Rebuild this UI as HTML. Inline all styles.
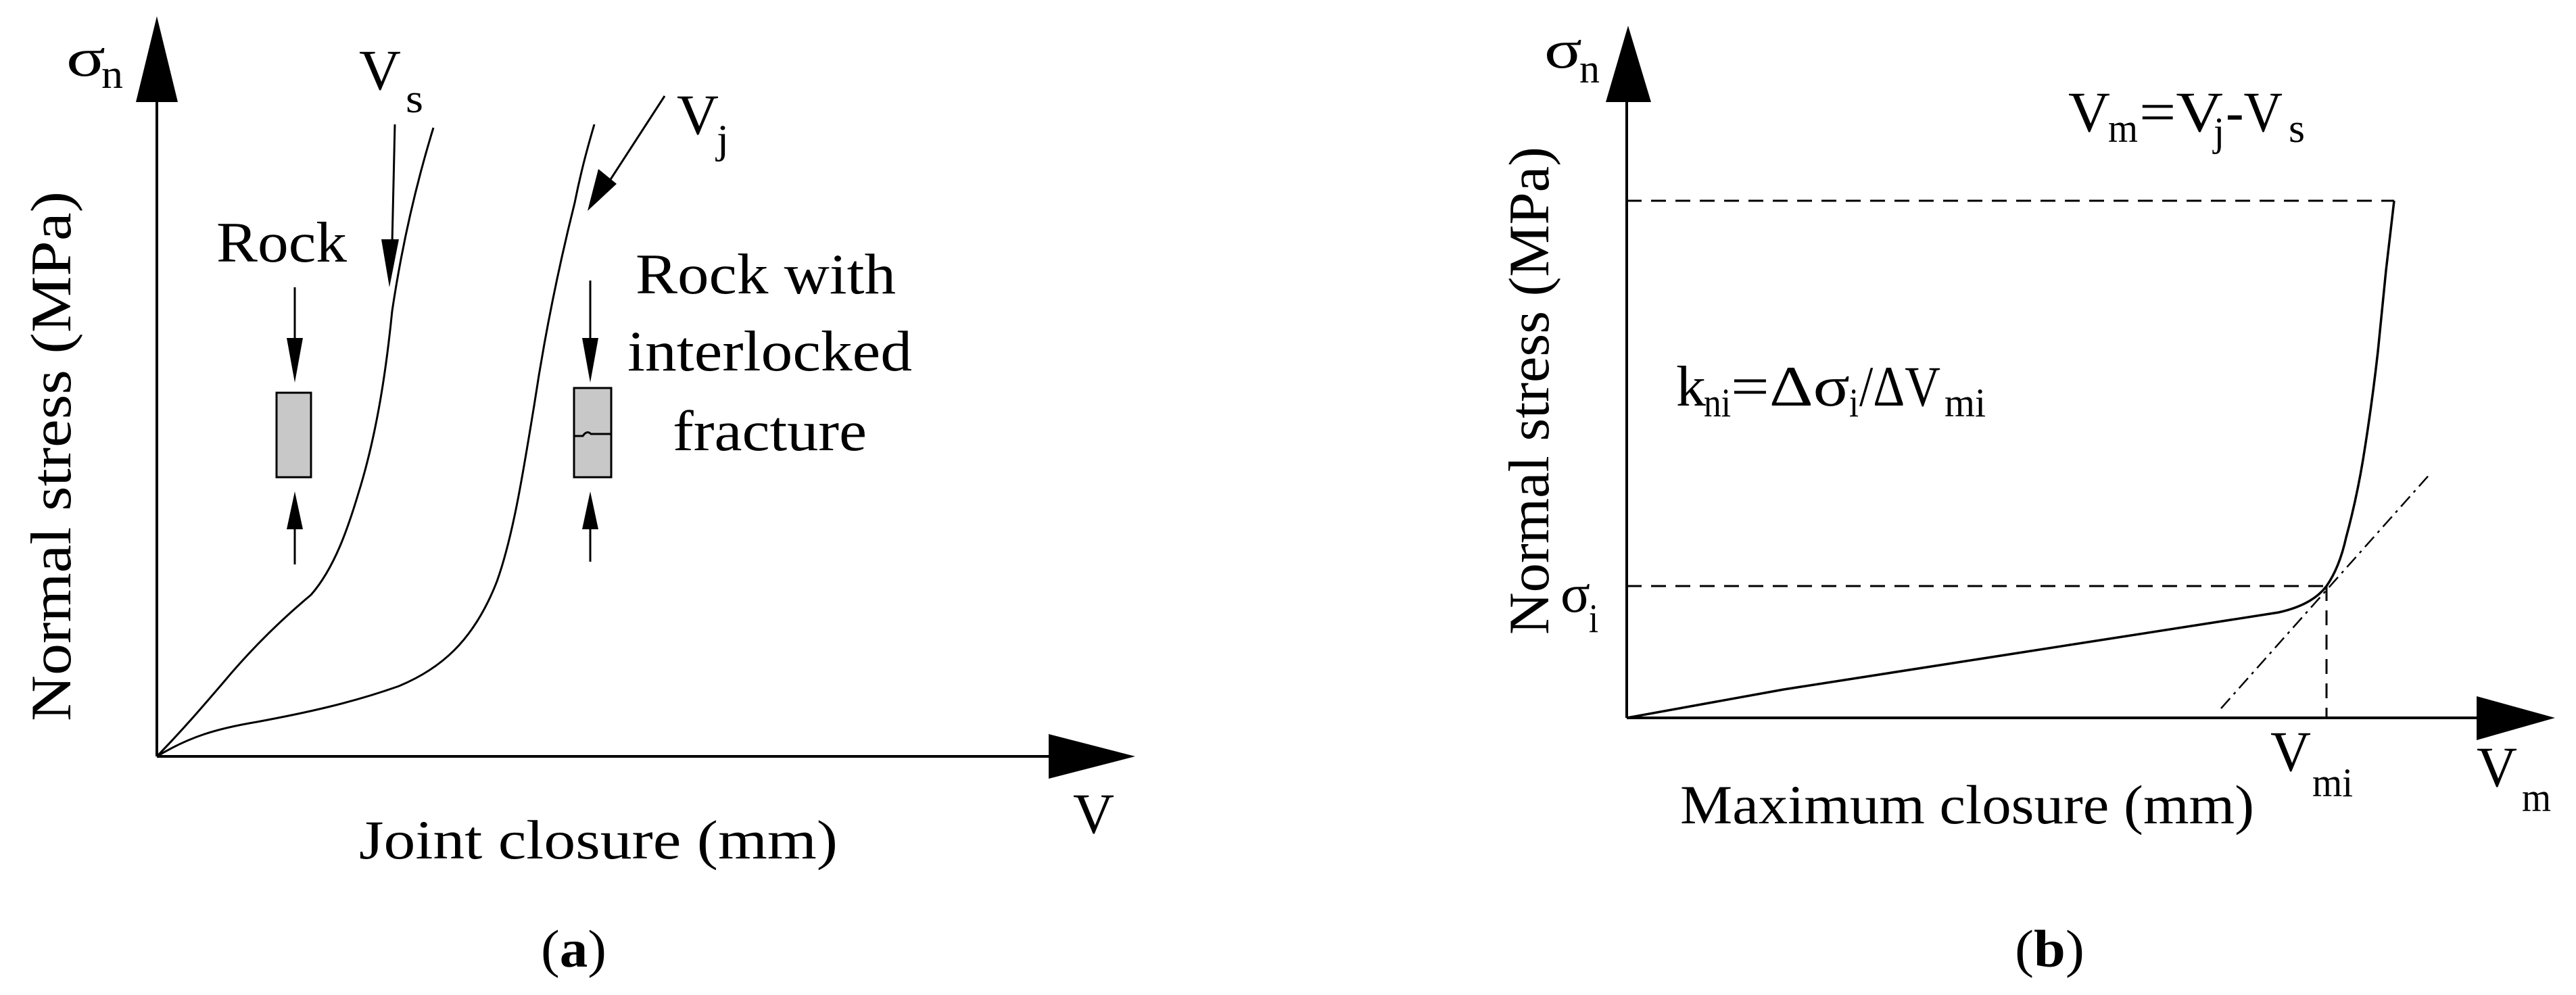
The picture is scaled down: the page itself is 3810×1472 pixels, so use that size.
<!DOCTYPE html>
<html><head><meta charset="utf-8"><style>html,body{margin:0;padding:0;background:#fff}svg{display:block}text{font-family:"Liberation Serif",serif;fill:#000}</style></head><body>
<svg width="3810" height="1472" viewBox="0 0 3810 1472" xmlns="http://www.w3.org/2000/svg">
<g stroke="#000" fill="none" stroke-width="4">
<!-- Left axes -->
<line x1="232" y1="1119" x2="232" y2="140"/>
<line x1="232" y1="1119" x2="1560" y2="1119"/>
</g>
<polygon points="232,24 201,151 263,151" fill="#000"/>
<polygon points="1679,1119 1551,1086 1551,1152" fill="#000"/>
<g stroke="#000" fill="none" stroke-width="3">
<path d="M232,1119 C270,1080 300,1045 330,1010 C380,950 430,905 460,880 C495,840 515,780 530,730 C555,650 570,560 580,460 C592,380 610,290 641,189"/>
<path d="M232,1119 C280,1090 320,1078 380,1068 C450,1055 520,1040 590,1015 C650,990 700,950 735,860 C760,790 775,690 790,600 C808,480 830,380 850,300 C860,250 870,215 879,184"/>
<!-- Vs arrow -->
<line x1="584" y1="184" x2="580" y2="360"/>
<!-- Vj arrow -->
<line x1="983" y1="142" x2="900" y2="270"/>
<!-- specimen left -->
<line x1="436" y1="425" x2="436" y2="510"/>
<line x1="436" y1="780" x2="436" y2="835"/>
<line x1="873" y1="415" x2="873" y2="505"/>
<line x1="873" y1="775" x2="873" y2="831"/>
</g>
<polygon points="576,425 564,354 590,354" fill="#000"/>
<polygon points="869,312 885,250 912,272" fill="#000"/>
<polygon points="436,566 424,500 448,500" fill="#000"/>
<polygon points="436,727 424,783 448,783" fill="#000"/>
<polygon points="873,566 861,500 885,500" fill="#000"/>
<polygon points="873,727 861,783 885,783" fill="#000"/>
<rect x="409" y="581" width="51" height="125" fill="#c8c8c8" stroke="#000" stroke-width="3"/>
<rect x="849" y="574" width="55" height="132" fill="#c8c8c8" stroke="#000" stroke-width="3"/>
<path d="M849,645 L862,645 Q868,636 874,642 L904,642" stroke="#000" stroke-width="3" fill="none"/>

<!-- Left text -->
<text x="98" y="112" font-size="80" textLength="58" lengthAdjust="spacingAndGlyphs">σ</text>
<text x="150" y="130" font-size="60" textLength="32" lengthAdjust="spacingAndGlyphs">n</text>
<text x="531" y="132" font-size="85" textLength="62" lengthAdjust="spacingAndGlyphs">V</text>
<text x="600" y="166" font-size="60" textLength="26" lengthAdjust="spacingAndGlyphs">s</text>
<text x="1001" y="198" font-size="85" textLength="62" lengthAdjust="spacingAndGlyphs">V</text>
<text x="1060" y="226" font-size="60" textLength="18" lengthAdjust="spacingAndGlyphs">j</text>
<text x="320" y="387" font-size="85" textLength="193" lengthAdjust="spacingAndGlyphs">Rock</text>
<text x="940" y="434" font-size="85" textLength="385" lengthAdjust="spacingAndGlyphs">Rock with</text>
<text x="928" y="548" font-size="85" textLength="421" lengthAdjust="spacingAndGlyphs">interlocked</text>
<text x="995" y="666" font-size="85" textLength="287" lengthAdjust="spacingAndGlyphs">fracture</text>
<text transform="translate(104,675) rotate(-90)" text-anchor="middle" font-size="85" textLength="784" lengthAdjust="spacingAndGlyphs">Normal stress (MPa)</text>
<text x="1587" y="1232" font-size="85" textLength="61" lengthAdjust="spacingAndGlyphs">V</text>
<text x="531" y="1270" font-size="82" textLength="708" lengthAdjust="spacingAndGlyphs">Joint closure (mm)</text>
<text x="800" y="1430" font-size="78" textLength="97" lengthAdjust="spacingAndGlyphs">(<tspan font-weight="bold">a</tspan>)</text>

<!-- Right axes -->
<g stroke="#000" fill="none" stroke-width="4">
<line x1="2406" y1="1062" x2="2406" y2="140"/>
<line x1="2406" y1="1062" x2="3680" y2="1062"/>
</g>
<polygon points="2408,38 2375,151 2442,151" fill="#000"/>
<polygon points="3779,1062 3663,1030 3663,1095" fill="#000"/>
<g stroke="#000" fill="none" stroke-width="3" stroke-dasharray="22,14">
<line x1="2406" y1="297" x2="3541" y2="297"/>
<line x1="2406" y1="867" x2="3441" y2="867"/>
<line x1="3441" y1="867" x2="3441" y2="1062"/>
</g>
<line x1="3285" y1="1048" x2="3596" y2="699" stroke="#000" stroke-width="2.5" stroke-dasharray="20,8,4,8"/>
<path d="M2406,1062 L2638,1020 L2882,982 L3126,944 L3370,906 Q3420,895 3441,867 Q3460,840 3470,795 Q3485,740 3495,680 Q3508,600 3517,520 L3529,400 L3541,297" stroke="#000" stroke-width="3.5" fill="none"/>

<!-- Right text -->
<text x="2284" y="100" font-size="80" textLength="56" lengthAdjust="spacingAndGlyphs">σ</text>
<text x="2336" y="122" font-size="60" textLength="30" lengthAdjust="spacingAndGlyphs">n</text>
<text x="3059" y="194" font-size="85" textLength="62" lengthAdjust="spacingAndGlyphs">V</text>
<text x="3118" y="210" font-size="60" textLength="44" lengthAdjust="spacingAndGlyphs">m</text>
<text x="3164" y="194" font-size="85" textLength="124" lengthAdjust="spacingAndGlyphs">=V</text>
<text x="3274" y="215" font-size="60" textLength="16" lengthAdjust="spacingAndGlyphs">j</text>
<text x="3292" y="194" font-size="85" textLength="84" lengthAdjust="spacingAndGlyphs">-V</text>
<text x="3385" y="210" font-size="60" textLength="24" lengthAdjust="spacingAndGlyphs">s</text>
<text x="2479" y="600" font-size="85" textLength="44" lengthAdjust="spacingAndGlyphs">k</text>
<text x="2520" y="616" font-size="60" textLength="40" lengthAdjust="spacingAndGlyphs">ni</text>
<text x="2560" y="600" font-size="85" textLength="176" lengthAdjust="spacingAndGlyphs">=Δσ</text>
<text x="2735" y="616" font-size="60" textLength="14" lengthAdjust="spacingAndGlyphs">i</text>
<text x="2750" y="600" font-size="85" textLength="120" lengthAdjust="spacingAndGlyphs">/ΔV</text>
<text x="2876" y="616" font-size="60" textLength="61" lengthAdjust="spacingAndGlyphs">mi</text>
<text transform="translate(2290,578) rotate(-90)" text-anchor="middle" font-size="85" textLength="722" lengthAdjust="spacingAndGlyphs">Normal stress (MPa)</text>
<text x="2308" y="905" font-size="80" textLength="44" lengthAdjust="spacingAndGlyphs">σ</text>
<text x="2350" y="935" font-size="60" textLength="14" lengthAdjust="spacingAndGlyphs">i</text>
<text x="3358" y="1140" font-size="85" textLength="60" lengthAdjust="spacingAndGlyphs">V</text>
<text x="3420" y="1178" font-size="60" textLength="60" lengthAdjust="spacingAndGlyphs">mi</text>
<text x="3663" y="1163" font-size="85" textLength="60" lengthAdjust="spacingAndGlyphs">V</text>
<text x="3730" y="1200" font-size="60" textLength="43" lengthAdjust="spacingAndGlyphs">m</text>
<text x="2485" y="1218" font-size="82" textLength="849" lengthAdjust="spacingAndGlyphs">Maximum closure (mm)</text>
<text x="2980" y="1430" font-size="78" textLength="103" lengthAdjust="spacingAndGlyphs">(<tspan font-weight="bold">b</tspan>)</text>
</svg>
</body></html>
